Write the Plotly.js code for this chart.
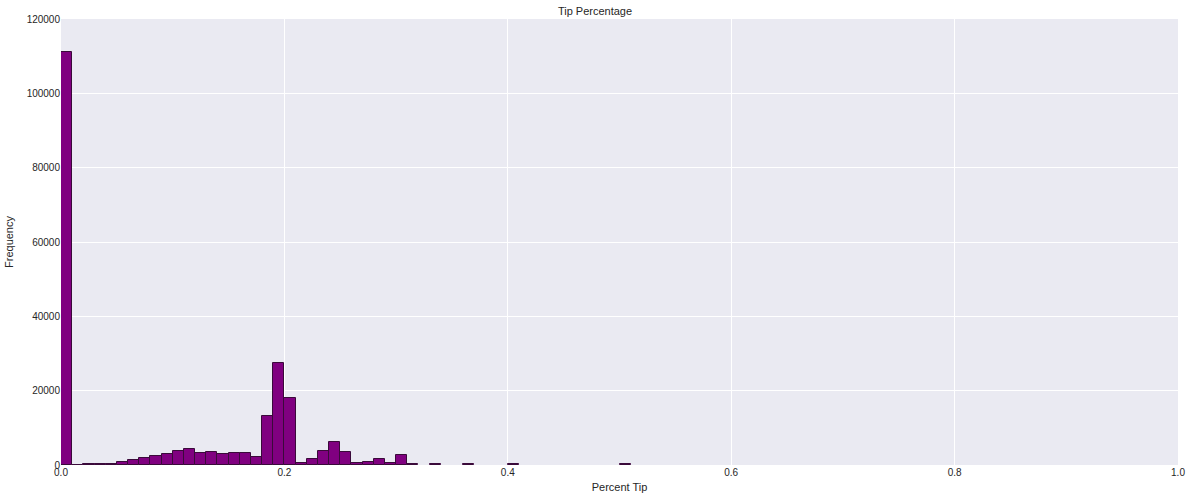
<!DOCTYPE html>
<html>
<head>
<meta charset="utf-8">
<script src="https://cdn.plot.ly/plotly-3.0.1.min.js"></script>
<style>body{margin:0;}#plot{width:1190px;height:504px;}</style>
</head>
<body>
<div id="plot"></div>
<script>
// histogram bins of width 0.01 starting at 0
var binStart = [0,0.01,0.02,0.03,0.04,0.05,0.06,0.07,0.08,0.09,0.10,0.11,0.12,0.13,0.14,0.15,0.16,0.17,0.18,0.19,
  0.20,0.21,0.22,0.23,0.24,0.25,0.26,0.27,0.28,0.29,0.30,0.31,0.33,0.36,0.40,0.50];
var counts = [111000,100,200,200,400,900,1300,1800,2500,3000,3900,4200,3300,3600,3000,3300,3300,2200,13300,27500,
  18100,600,1500,3900,6300,3600,450,900,1700,600,2600,150,150,150,150,150];

var centers = binStart.map(function(b){ return b + 0.005; });

var trace = {
  x: centers,
  y: counts,
  type: 'bar',
  width: 0.01,
  marker: {color: '#800080', line: {color: '#3a0a3a', width: 1}},
  hoverinfo: 'x+y'
};

var layout = {
  width: 1190,
  height: 504,
  margin: {l: 61, r: 12, t: 19, b: 39},
  paper_bgcolor: 'white',
  plot_bgcolor: '#EAEAF2',
  font: {family: 'Liberation Sans, Arial', size: 10, color: '#262626'},
  title: {text: 'Tip Percentage', font: {size: 11}, x: 0.5, xanchor: 'center', y: 0.985, yanchor: 'top'},
  bargap: 0,
  showlegend: false,
  xaxis: {
    range: [0, 1], tickvals: [0, 0.2, 0.4, 0.6, 0.8, 1.0],
    ticktext: ['0.0', '0.2', '0.4', '0.6', '0.8', '1.0'],
    showgrid: true, gridcolor: 'white', gridwidth: 1.2, zeroline: false,
    ticks: '', title: {text: 'Percent Tip', font: {size: 11}, standoff: 6}
  },
  yaxis: {
    range: [0, 120000], dtick: 20000, tickformat: 'd',
    showgrid: true, gridcolor: 'white', gridwidth: 1.2, zeroline: false,
    ticks: '', title: {text: 'Frequency', font: {size: 11}, standoff: 10}
  }
};

Plotly.newPlot('plot', [trace], layout, {displayModeBar: false});
</script>
</body>
</html>
